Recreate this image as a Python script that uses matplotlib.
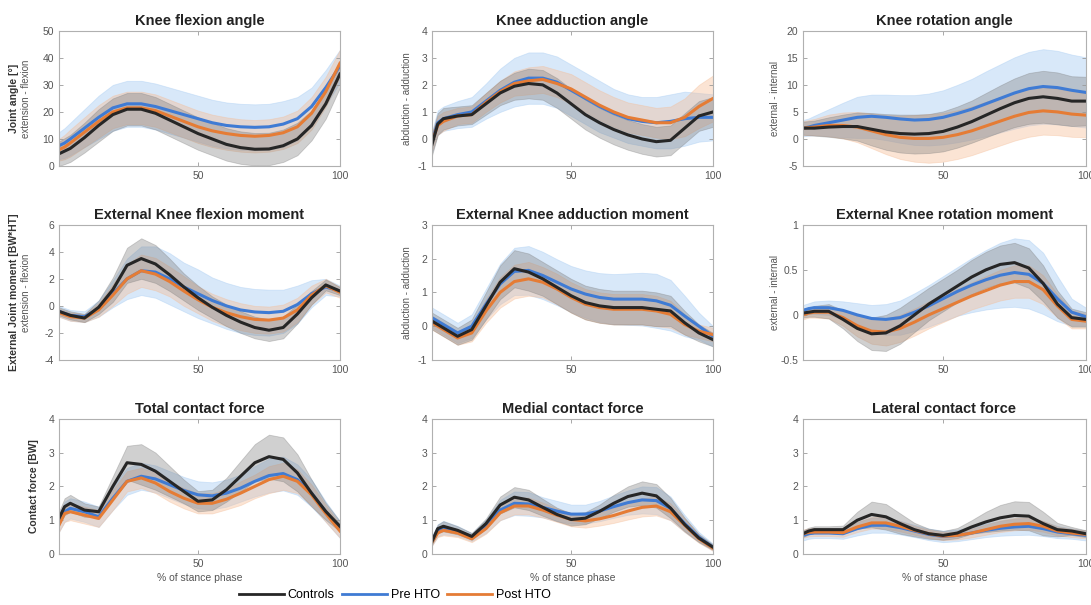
import numpy as np
import matplotlib
matplotlib.use("Agg")
import matplotlib.pyplot as plt
from matplotlib.lines import Line2D

plt.rcParams['font.family'] = ['Liberation Sans', 'DejaVu Sans']

# % of stance phase at which values were read
stance = [1, 3, 5, 10, 15, 20, 25, 30, 35, 40, 45, 50, 55, 60, 65, 70, 75, 80, 85, 90, 95, 100]

# Knee flexion angle
flex_ang_ctrl = [4.5, 5.5, 6.5, 10.5, 15, 19, 21, 21, 19.5, 17, 14.5, 12, 10, 8, 6.8, 6.2, 6.3, 7.5, 10, 15, 23, 34]
flex_ang_pre = [7.5, 8.5, 10, 14, 18, 21.5, 23, 23, 22, 20.5, 19, 17.5, 16, 15, 14.5, 14.3, 14.5, 15.5, 17.5, 22, 29, 37]
flex_ang_post = [6, 7, 8.5, 12.5, 16.5, 20, 21.5, 21.5, 20.5, 18.5, 16.5, 14.5, 13, 12, 11.3, 11, 11.3, 12.3, 14.5, 19.5, 27.5, 38]
flex_ang_ctrl_sd = [4.5, 4.8, 5, 5.5, 6, 6, 6, 6, 6, 6, 6, 6, 6, 6, 6, 6, 6, 6, 6, 5.5, 5.5, 5]
flex_ang_pre_sd = [5, 5.5, 6, 7, 8, 8.5, 8.5, 8.5, 8.5, 8.5, 8.5, 8.5, 8.5, 8.5, 8.5, 8.5, 8.5, 8.5, 8, 7, 6.5, 6]
flex_ang_post_sd = [4, 4.5, 5, 5.5, 6, 6, 6, 6, 6, 6, 6, 6, 6, 6, 6, 6, 6, 6, 6, 6, 5.5, 5]

# Knee adduction angle
add_ang_ctrl = [-0.2, 0.55, 0.75, 0.85, 0.9, 1.3, 1.7, 1.95, 2.05, 2.0, 1.7, 1.3, 0.9, 0.6, 0.35, 0.15, 0.0, -0.1, -0.05, 0.4, 0.85, 1.0]
add_ang_pre = [-0.1, 0.6, 0.75, 0.9, 1.0, 1.4, 1.8, 2.1, 2.25, 2.25, 2.1, 1.8, 1.5, 1.2, 0.95, 0.75, 0.65, 0.6, 0.65, 0.75, 0.8, 0.8]
add_ang_post = [-0.1, 0.5, 0.65, 0.85, 0.9, 1.35, 1.75, 2.05, 2.15, 2.2, 2.05, 1.85, 1.55, 1.25, 1.0, 0.8, 0.7, 0.6, 0.6, 0.8, 1.2, 1.5]
add_ang_ctrl_sd = [0.4, 0.4, 0.4, 0.35, 0.35, 0.4, 0.45, 0.5, 0.55, 0.55, 0.55, 0.55, 0.55, 0.55, 0.55, 0.55, 0.55, 0.55, 0.55, 0.55, 0.55, 0.55]
add_ang_pre_sd = [0.4, 0.45, 0.45, 0.5, 0.55, 0.65, 0.8, 0.9, 0.95, 0.95, 0.95, 0.95, 0.95, 0.95, 0.9, 0.9, 0.9, 0.95, 1.0, 1.0, 0.9, 0.85]
add_ang_post_sd = [0.35, 0.35, 0.35, 0.3, 0.3, 0.35, 0.4, 0.45, 0.5, 0.5, 0.5, 0.55, 0.55, 0.55, 0.55, 0.55, 0.55, 0.55, 0.6, 0.7, 0.8, 0.85]

# Knee rotation angle
rot_ang_ctrl = [2, 2, 2, 2.2, 2.3, 2.3, 1.8, 1.3, 1.0, 0.9, 1.0, 1.4, 2.2, 3.2, 4.4, 5.6, 6.7, 7.5, 7.8, 7.5, 7.0, 7.0]
rot_ang_pre = [2, 2.2, 2.5, 3, 3.5, 4, 4.2, 4, 3.7, 3.5, 3.6, 4, 4.7, 5.5, 6.5, 7.5, 8.5, 9.3, 9.7, 9.5, 9, 8.6]
rot_ang_post = [2, 2.1, 2.2, 2.5, 2.5, 2.2, 1.5, 0.8, 0.3, 0.1, 0.1, 0.3, 0.8, 1.5, 2.4, 3.3, 4.2, 4.9, 5.2, 5.0, 4.6, 4.4]
rot_ang_ctrl_sd = [1.2, 1.3, 1.4, 1.8, 2.2, 2.6, 3.0, 3.3, 3.5, 3.6, 3.6, 3.7, 3.8, 3.9, 4.1, 4.3, 4.5, 4.7, 4.8, 4.8, 4.6, 4.5]
rot_ang_pre_sd = [1.5, 1.6, 1.8, 2.5, 3.2, 3.8, 4.0, 4.2, 4.4, 4.6, 4.8, 5.0, 5.3, 5.6, 6.0, 6.3, 6.6, 6.8, 6.9, 6.8, 6.6, 6.5]
rot_ang_post_sd = [1.3, 1.4, 1.5, 2.0, 2.4, 2.8, 3.2, 3.6, 4.0, 4.3, 4.5, 4.5, 4.5, 4.5, 4.5, 4.5, 4.5, 4.5, 4.4, 4.3, 4.2, 4.1]

# External knee flexion moment
flex_mom_ctrl = [-0.4, -0.55, -0.7, -0.9, -0.1, 1.2, 3.0, 3.5, 3.1, 2.3, 1.4, 0.6, -0.1, -0.7, -1.2, -1.6, -1.8, -1.6, -0.6, 0.6, 1.55, 1.1]
flex_mom_pre = [-0.4, -0.55, -0.7, -0.8, -0.2, 0.9, 2.0, 2.6, 2.5, 2.0, 1.4, 0.9, 0.4, 0.0, -0.3, -0.45, -0.5, -0.4, 0.1, 0.9, 1.4, 1.1]
flex_mom_post = [-0.5, -0.65, -0.8, -0.9, -0.3, 0.8, 2.0, 2.6, 2.35, 1.8, 1.1, 0.45, -0.1, -0.5, -0.8, -1.0, -1.05, -0.9, -0.3, 0.8, 1.5, 1.0]
flex_mom_ctrl_sd = [0.3, 0.3, 0.3, 0.3, 0.5, 0.9, 1.3, 1.5, 1.4, 1.2, 1.0, 0.9, 0.8, 0.8, 0.8, 0.8, 0.8, 0.8, 0.7, 0.5, 0.4, 0.3]
flex_mom_pre_sd = [0.4, 0.4, 0.4, 0.4, 0.6, 1.0, 1.5, 1.8, 1.9, 1.9, 1.8, 1.8, 1.7, 1.7, 1.7, 1.7, 1.7, 1.6, 1.4, 1.0, 0.6, 0.4]
flex_mom_post_sd = [0.3, 0.3, 0.3, 0.3, 0.5, 0.8, 1.1, 1.2, 1.2, 1.1, 1.1, 1.0, 1.0, 1.0, 1.0, 1.0, 1.0, 1.0, 0.9, 0.7, 0.5, 0.4]

# External knee adduction moment
add_mom_ctrl = [0.15, 0.05, -0.05, -0.3, -0.1, 0.6, 1.3, 1.7, 1.6, 1.4, 1.15, 0.9, 0.7, 0.6, 0.55, 0.55, 0.55, 0.5, 0.45, 0.1, -0.2, -0.4]
add_mom_pre = [0.25, 0.15, 0.05, -0.2, 0.0, 0.65, 1.25, 1.62, 1.65, 1.5, 1.3, 1.1, 0.95, 0.85, 0.8, 0.8, 0.8, 0.75, 0.62, 0.3, 0.0, -0.3]
add_mom_post = [0.1, 0.0, -0.1, -0.35, -0.2, 0.45, 1.0, 1.32, 1.4, 1.3, 1.1, 0.85, 0.65, 0.55, 0.5, 0.5, 0.5, 0.45, 0.35, 0.05, -0.15, -0.25]
add_mom_ctrl_sd = [0.25, 0.25, 0.25, 0.25, 0.3, 0.4, 0.5, 0.55, 0.55, 0.5, 0.5, 0.5, 0.5, 0.5, 0.5, 0.5, 0.5, 0.5, 0.45, 0.35, 0.25, 0.2]
add_mom_pre_sd = [0.3, 0.3, 0.3, 0.3, 0.35, 0.45, 0.6, 0.7, 0.72, 0.7, 0.68, 0.68, 0.7, 0.72, 0.74, 0.76, 0.78, 0.8, 0.75, 0.6, 0.4, 0.3]
add_mom_post_sd = [0.2, 0.2, 0.2, 0.2, 0.25, 0.35, 0.45, 0.5, 0.5, 0.45, 0.45, 0.45, 0.45, 0.45, 0.45, 0.45, 0.45, 0.45, 0.4, 0.3, 0.2, 0.2]

# External knee rotation moment
rot_mom_ctrl = [0.02, 0.03, 0.04, 0.04, -0.05, -0.15, -0.21, -0.2, -0.12, 0.0, 0.12, 0.22, 0.32, 0.42, 0.5, 0.56, 0.58, 0.52, 0.35, 0.12, -0.03, -0.05]
rot_mom_pre = [0.05, 0.07, 0.08, 0.08, 0.05, 0.0, -0.04, -0.05, -0.03, 0.03, 0.1, 0.18, 0.26, 0.33, 0.39, 0.44, 0.47, 0.45, 0.35, 0.18, 0.03, -0.02]
rot_mom_post = [0.0, 0.02, 0.03, 0.03, -0.03, -0.12, -0.18, -0.19, -0.15, -0.08, 0.0, 0.07, 0.14, 0.21, 0.27, 0.33, 0.37, 0.37, 0.28, 0.1, -0.05, -0.07]
rot_mom_ctrl_sd = [0.05, 0.05, 0.06, 0.08, 0.1, 0.14, 0.18, 0.2, 0.2, 0.19, 0.18, 0.18, 0.18, 0.19, 0.2, 0.21, 0.22, 0.22, 0.2, 0.15, 0.1, 0.08]
rot_mom_pre_sd = [0.06, 0.06, 0.07, 0.08, 0.1, 0.13, 0.15, 0.17, 0.19, 0.21, 0.23, 0.25, 0.27, 0.3, 0.33, 0.36, 0.38, 0.38, 0.34, 0.25, 0.15, 0.1]
rot_mom_post_sd = [0.05, 0.05, 0.06, 0.07, 0.09, 0.12, 0.14, 0.15, 0.15, 0.15, 0.15, 0.15, 0.15, 0.15, 0.16, 0.17, 0.18, 0.18, 0.16, 0.13, 0.1, 0.08]

# Total contact force
tot_ctrl = [1.05, 1.4, 1.5, 1.3, 1.25, 2.0, 2.7, 2.65, 2.45, 2.15, 1.85, 1.56, 1.6, 1.9, 2.3, 2.7, 2.88, 2.8, 2.4, 1.8, 1.26, 0.82]
tot_pre = [0.9, 1.25, 1.35, 1.25, 1.1, 1.65, 2.15, 2.3, 2.22, 2.05, 1.88, 1.75, 1.72, 1.8, 1.95, 2.15, 2.32, 2.38, 2.2, 1.8, 1.25, 0.72]
tot_post = [0.85, 1.2, 1.25, 1.15, 1.05, 1.6, 2.15, 2.25, 2.1, 1.85, 1.65, 1.5, 1.5, 1.62, 1.8, 2.0, 2.2, 2.3, 2.15, 1.75, 1.2, 0.68]
tot_ctrl_sd = [0.2, 0.25, 0.25, 0.2, 0.15, 0.3, 0.5, 0.6, 0.55, 0.45, 0.35, 0.3, 0.3, 0.35, 0.45, 0.55, 0.65, 0.65, 0.55, 0.4, 0.25, 0.15]
tot_pre_sd = [0.25, 0.3, 0.3, 0.3, 0.3, 0.35, 0.4, 0.4, 0.4, 0.4, 0.4, 0.4, 0.4, 0.4, 0.4, 0.45, 0.5, 0.5, 0.45, 0.4, 0.3, 0.25]
tot_post_sd = [0.2, 0.25, 0.25, 0.25, 0.25, 0.3, 0.3, 0.3, 0.3, 0.3, 0.3, 0.3, 0.3, 0.3, 0.35, 0.35, 0.4, 0.4, 0.35, 0.3, 0.25, 0.2]

# Medial contact force
med_ctrl = [0.37, 0.75, 0.82, 0.7, 0.52, 0.9, 1.45, 1.68, 1.6, 1.38, 1.17, 1.02, 1.06, 1.26, 1.5, 1.7, 1.8, 1.72, 1.36, 0.87, 0.47, 0.2]
med_pre = [0.4, 0.7, 0.78, 0.68, 0.5, 0.82, 1.3, 1.5, 1.48, 1.38, 1.27, 1.18, 1.18, 1.27, 1.4, 1.52, 1.6, 1.58, 1.35, 0.9, 0.5, 0.2]
med_post = [0.35, 0.62, 0.7, 0.62, 0.45, 0.75, 1.22, 1.42, 1.42, 1.3, 1.15, 1.02, 0.98, 1.04, 1.14, 1.27, 1.38, 1.42, 1.25, 0.85, 0.45, 0.17]
med_ctrl_sd = [0.1, 0.12, 0.15, 0.12, 0.1, 0.15, 0.25, 0.3, 0.3, 0.25, 0.2, 0.18, 0.18, 0.2, 0.25, 0.3, 0.35, 0.35, 0.3, 0.2, 0.12, 0.08]
med_pre_sd = [0.15, 0.18, 0.2, 0.15, 0.12, 0.2, 0.3, 0.35, 0.35, 0.3, 0.3, 0.28, 0.28, 0.3, 0.33, 0.36, 0.4, 0.4, 0.35, 0.25, 0.15, 0.1]
med_post_sd = [0.1, 0.12, 0.15, 0.12, 0.1, 0.15, 0.22, 0.25, 0.25, 0.22, 0.2, 0.2, 0.2, 0.2, 0.22, 0.25, 0.27, 0.28, 0.25, 0.2, 0.12, 0.08]

# Lateral contact force
lat_ctrl = [0.6, 0.68, 0.72, 0.72, 0.72, 1.0, 1.17, 1.1, 0.9, 0.72, 0.6, 0.55, 0.62, 0.8, 0.95, 1.07, 1.14, 1.12, 0.9, 0.72, 0.68, 0.6]
lat_pre = [0.55, 0.6, 0.62, 0.62, 0.6, 0.75, 0.85, 0.85, 0.78, 0.68, 0.58, 0.52, 0.55, 0.62, 0.7, 0.76, 0.8, 0.82, 0.75, 0.65, 0.6, 0.55]
lat_post = [0.6, 0.64, 0.65, 0.65, 0.63, 0.8, 0.92, 0.92, 0.82, 0.7, 0.6, 0.53, 0.55, 0.62, 0.72, 0.82, 0.88, 0.9, 0.82, 0.68, 0.62, 0.58]
lat_ctrl_sd = [0.1, 0.1, 0.1, 0.1, 0.12, 0.25, 0.38, 0.38, 0.3, 0.2, 0.15, 0.13, 0.15, 0.2, 0.3, 0.38, 0.42, 0.42, 0.35, 0.2, 0.12, 0.1]
lat_pre_sd = [0.15, 0.15, 0.15, 0.15, 0.15, 0.2, 0.22, 0.22, 0.2, 0.18, 0.17, 0.17, 0.17, 0.18, 0.2, 0.22, 0.24, 0.25, 0.22, 0.18, 0.15, 0.15]
lat_post_sd = [0.12, 0.12, 0.12, 0.12, 0.12, 0.15, 0.17, 0.17, 0.15, 0.13, 0.12, 0.12, 0.12, 0.13, 0.15, 0.17, 0.18, 0.18, 0.16, 0.13, 0.12, 0.12]

titles = ["Knee flexion angle", "Knee adduction angle", "Knee rotation angle",
          "External Knee flexion moment", "External Knee adduction moment", "External Knee rotation moment",
          "Total contact force", "Medial contact force", "Lateral contact force"]
group_labels = ["Controls", "Pre HTO", "Post HTO"]

panels = [
    (flex_ang_ctrl, flex_ang_ctrl_sd, flex_ang_pre, flex_ang_pre_sd, flex_ang_post, flex_ang_post_sd, (0, 50), 10),
    (add_ang_ctrl, add_ang_ctrl_sd, add_ang_pre, add_ang_pre_sd, add_ang_post, add_ang_post_sd, (-1, 4), 1),
    (rot_ang_ctrl, rot_ang_ctrl_sd, rot_ang_pre, rot_ang_pre_sd, rot_ang_post, rot_ang_post_sd, (-5, 20), 5),
    (flex_mom_ctrl, flex_mom_ctrl_sd, flex_mom_pre, flex_mom_pre_sd, flex_mom_post, flex_mom_post_sd, (-4, 6), 2),
    (add_mom_ctrl, add_mom_ctrl_sd, add_mom_pre, add_mom_pre_sd, add_mom_post, add_mom_post_sd, (-1, 3), 1),
    (rot_mom_ctrl, rot_mom_ctrl_sd, rot_mom_pre, rot_mom_pre_sd, rot_mom_post, rot_mom_post_sd, (-0.5, 1), 0.5),
    (tot_ctrl, tot_ctrl_sd, tot_pre, tot_pre_sd, tot_post, tot_post_sd, (0, 4), 1),
    (med_ctrl, med_ctrl_sd, med_pre, med_pre_sd, med_post, med_post_sd, (0, 4), 1),
    (lat_ctrl, lat_ctrl_sd, lat_pre, lat_pre_sd, lat_post, lat_post_sd, (0, 4), 1),
]

line_cols = ['#262626', '#3f7bd4', '#e57c35']
fill_cols = ['#7a7a7a', '#a9cdf3', '#f5bc95']
fill_alpha = [0.35, 0.45, 0.4]

fig = plt.figure(figsize=(10.91, 6.05), dpi=100)
lefts = [0.054, 0.396, 0.736]
widths = [0.2576, 0.2576, 0.2594]
bottoms = [0.7256, 0.405, 0.0843]
height = 0.2235

x = np.array(stance)
axes = []
for i, p in enumerate(panels):
    r, c = divmod(i, 3)
    ax = fig.add_axes([lefts[c], bottoms[r], widths[c], height])
    axes.append(ax)
    means = [np.array(p[0]), np.array(p[2]), np.array(p[4])]
    sds = [np.array(p[1]), np.array(p[3]), np.array(p[5])]
    for g in [1, 2, 0]:
        ax.fill_between(x, means[g] - sds[g], means[g] + sds[g], color=fill_cols[g],
                        alpha=fill_alpha[g], linewidth=0.6, edgecolor=fill_cols[g])
    for g in [1, 2, 0]:
        ax.plot(x, means[g], color=line_cols[g], linewidth=2.2)
    lo, hi = p[6]
    ax.set_xlim(1, 100)
    ax.set_ylim(lo, hi)
    ax.set_xticks([50, 100])
    ax.set_yticks(np.arange(lo, hi + p[7] / 2, p[7]))
    ax.yaxis.set_major_formatter(plt.FuncFormatter(lambda v, pos: f"{v:g}"))
    ax.tick_params(direction='in', top=True, right=True, labelsize=7.5, colors='#9a9a9a',
                   labelcolor='#555555', length=3, width=0.6)
    for s in ax.spines.values():
        s.set_color('#b0b0b0')
        s.set_linewidth(0.8)
    ax.set_title(titles[i], fontsize=10.5, fontweight='bold', color='#222222', pad=4)
    if r == 2:
        ax.set_xlabel('% of stance phase', fontsize=7.5, color='#555555', labelpad=3)

# y labels
axes[0].text(-0.16, 0.5, 'Joint angle [°]', transform=axes[0].transAxes, rotation=90,
             ha='center', va='center', fontsize=7.5, fontweight='bold', color='#333333')
axes[0].text(-0.118, 0.5, 'extension - flexion', transform=axes[0].transAxes, rotation=90,
             ha='center', va='center', fontsize=7, color='#555555')
axes[3].text(-0.16, 0.5, 'External Joint moment [BW*HT]', transform=axes[3].transAxes, rotation=90,
             ha='center', va='center', fontsize=7.5, fontweight='bold', color='#333333')
axes[3].text(-0.118, 0.5, 'extension - flexion', transform=axes[3].transAxes, rotation=90,
             ha='center', va='center', fontsize=7, color='#555555')
axes[6].text(-0.09, 0.5, 'Contact force [BW]', transform=axes[6].transAxes, rotation=90,
             ha='center', va='center', fontsize=7.5, fontweight='bold', color='#333333')
for k in [1, 4]:
    axes[k].text(-0.09, 0.5, 'abduction - adduction', transform=axes[k].transAxes, rotation=90,
                 ha='center', va='center', fontsize=7, color='#555555')
for k in [2, 5]:
    axes[k].text(-0.1, 0.5, 'external - internal', transform=axes[k].transAxes, rotation=90,
                 ha='center', va='center', fontsize=7, color='#555555')

handles = [Line2D([], [], color=line_cols[g], linewidth=2) for g in range(3)]
fig.legend(handles, group_labels, loc='lower center', bbox_to_anchor=(0.362, -0.012), ncol=3,
           frameon=False, fontsize=9, handlelength=3.6, handletextpad=0.3, columnspacing=0.6)

fig.savefig('out.png', dpi=100)
